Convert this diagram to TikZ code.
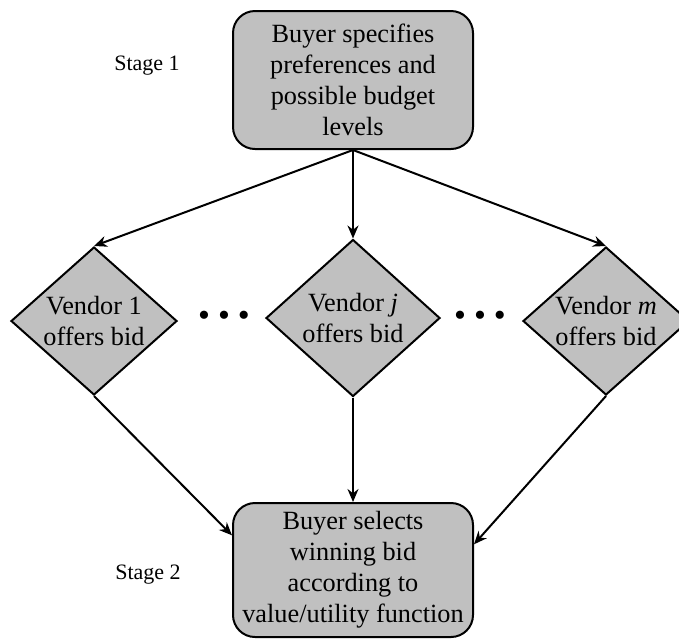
\documentclass[tikz,border=0pt]{standalone}
\usepackage{fontspec}
\setmainfont{Liberation Serif}
\usetikzlibrary{shapes.geometric, arrows.meta}
\definecolor{boxgray}{RGB}{192,192,192}

\begin{document}
\begin{tikzpicture}[x=0.5pt,y=-0.5pt,>={Stealth[length=6.5pt,width=5.5pt]},line width=1pt,
    stagebox/.style={draw,rounded corners=11pt,fill=boxgray,align=center,
      minimum width=120pt,minimum height=69pt,inner sep=0pt,
      font=\fontsize{13.15}{15.5}\selectfont},
    vendor/.style={draw,diamond,fill=boxgray,align=center,aspect=1.12,inner sep=0pt,
      minimum width=83pt,minimum height=74pt,font=\fontsize{13.15}{15.5}\selectfont},
    stagelabel/.style={font=\fontsize{11}{13}\selectfont},
    gap/.style={font=\fontsize{17}{19}\selectfont}]
  \useasboundingbox (0,0) rectangle (679,639);

  \node[stagebox] (spec) at (353,80) {Buyer specifies\\preferences and\\possible budget\\levels};
  \node[stagelabel] (stage1) at (147,66) {Stage 1};

  \node[vendor] (v1) at (94,321) {Vendor 1\\offers bid};
  \node[vendor,minimum width=87pt,minimum height=78.5pt] (vj) at (353,318) {Vendor \textit{j}\\offers bid};
  \node[vendor] (vm) at (606,321) {Vendor \textit{m}\\offers bid};
  \node[gap] (dotsl) at (224,319) {\textbullet\hspace{4pt}\textbullet\hspace{4pt}\textbullet};
  \node[gap] (dotsr) at (480,319) {\textbullet\hspace{4pt}\textbullet\hspace{4pt}\textbullet};

  \node[stagebox,minimum height=67pt] (select) at (353,570) {Buyer selects\\winning bid\\according to\\value/utility function};
  \node[stagelabel] (stage2) at (148,575) {Stage 2};

  \path[->] (spec.south) edge (v1.north)
            (spec.south) edge (vj.north)
            (spec.south) edge (vm.north)
            (v1.south) edge (select.164)
            (vj.south) edge (select.north)
            (vm.south) edge (select.12);
\end{tikzpicture}
\end{document}
